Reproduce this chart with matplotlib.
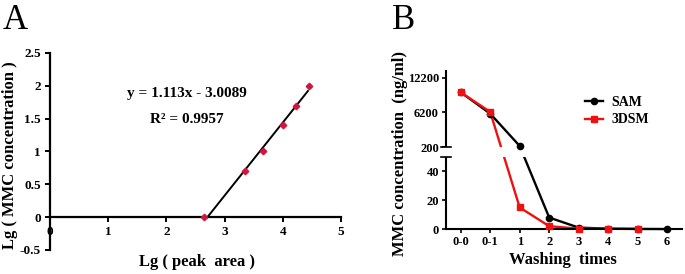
import matplotlib
matplotlib.use("Agg")
import matplotlib.pyplot as plt
import numpy as np
from matplotlib.lines import Line2D
from matplotlib.patches import Rectangle

plt.rcParams["font.family"] = ["Liberation Serif", "DejaVu Serif"]
plt.rcParams["font.weight"] = "bold"

# panel A: calibration
peak_lg = [2.65, 3.35, 3.65, 4.0, 4.23, 4.45]
conc_lg = [0.0, 0.7, 1.0, 1.4, 1.7, 2.0]
slope, intercept = 1.113, -3.0089
fit_range = [2.70, 4.43]
a_xticks = [0, 1, 2, 3, 4, 5]
a_yticks = [-0.5, 0, 0.5, 1, 1.5, 2, 2.5]
a_ylabels = ["-0.5", "0", "0.5", "1", "1.5", "2", "2.5"]

# panel B: washing
wash_labels = ["0-0", "0-1", "1", "2", "3", "4", "5", "6"]
sam = [9700, 6000, 380, 8, 1.0, 0.3, 0.1, 0.0]
dsm = [9700, 6300, 15, 2, 0.3, 0.2, 0.1]
b_yticks = [0, 20, 40, 200, 6200, 12200]

# broken axis: data value -> screen share
brk_val = [0, 50, 200, 13400]
brk_pos = [0, 72, 82, 158]


def fwd(v):
    return np.interp(v, brk_val, brk_pos)


def inv(p):
    return np.interp(p, brk_pos, brk_val)


fig = plt.figure(figsize=(6.85, 2.74), dpi=100)

axA = fig.add_axes([0.073, 0.0876, 0.425, 0.719])
axA.plot(peak_lg, conc_lg, "D", color="#d0163c", ms=3.3, clip_on=False, zorder=3)
axA.plot(fit_range, [slope * x + intercept for x in fit_range], color="black", lw=1.4)
axA.set_xlim(0, 5)
axA.set_ylim(-0.5, 2.5)
axA.spines["left"].set_position(("data", 0))
axA.spines["bottom"].set_position(("data", 0))
for s in ["top", "right"]:
    axA.spines[s].set_visible(False)
for s in ["left", "bottom"]:
    axA.spines[s].set_linewidth(1.6)
axA.set_xticks(a_xticks)
axA.set_yticks(a_yticks)
axA.set_yticklabels(a_ylabels)
axA.tick_params(width=1.4, length=3.5, labelsize=9.5, pad=3)
axA.text(2.35, 1.88, "y = 1.113x - 3.0089", ha="center", va="center", fontsize=11, fontweight="bold")
axA.text(2.35, 1.49, "R² = 0.9957", ha="center", va="center", fontsize=11, fontweight="bold")
fig.text(0.014, 0.435, "Lg ( MMC concentration )", rotation=90, ha="center", va="center",
         fontsize=12, fontweight="bold")
fig.text(0.288, 0.043, "Lg ( peak  area )", ha="center", va="center", fontsize=12, fontweight="bold")
fig.text(0.004, 0.985, "A", ha="left", va="top", fontsize=25, fontweight="normal")

# panel B
x = np.arange(len(wash_labels))
axB = fig.add_axes([0.651, 0.164, 0.3445, 0.577])
axB.set_yscale("function", functions=(fwd, inv))
axB.plot(x, sam, "-", color="black", lw=1.7, clip_on=False, zorder=2)
axB.plot(x[:len(dsm)], dsm, "-", color="#ee1111", lw=1.7, clip_on=False, zorder=2)
axB.plot(x, sam, "o", color="black", ms=4.5, clip_on=False, zorder=3)
axB.plot(x[:len(dsm)], dsm, "s", color="#ee1111", ms=4.5, clip_on=False, zorder=3)
axB.set_xlim(-0.5, 7.5)
axB.set_ylim(0, 13400)
axB.set_yticks(b_yticks)
axB.set_yticklabels([str(v) for v in b_yticks])
axB.set_xticks(x)
axB.set_xticklabels(wash_labels)
axB.spines["right"].set_visible(False)
axB.spines["top"].set_visible(False)
axB.spines["left"].set_linewidth(1.5)
axB.spines["bottom"].set_linewidth(1.5)
axB.tick_params(width=1.2, length=3, labelsize=9, pad=2)

# gap of the broken axis
ytr = axB.get_yaxis_transform()
axB.add_patch(Rectangle((-0.012, 52), 1.02, 146, transform=ytr, facecolor="white",
                        edgecolor="none", clip_on=False, zorder=2.7))
for yv in (50, 200):
    axB.plot([-0.022, 0.022], [yv, yv], transform=ytr, color="black", lw=1.2,
             clip_on=False, zorder=4)

handles = [
    Line2D([], [], color="black", lw=1.7, marker="o", ms=4.5),
    Line2D([], [], color="#ee1111", lw=1.7, marker="s", ms=4.5),
]
axB.legend(handles, ["SAM", "3DSM"], loc="center left", bbox_to_anchor=(0.56, 0.745),
           frameon=False, fontsize=10, handlelength=1.3, handletextpad=0.6, borderpad=0,
           labelspacing=0.3)
fig.text(0.584, 0.44, "MMC concentration  (ng/ml)", rotation=90, ha="center", va="center",
         fontsize=12, fontweight="bold")
fig.text(0.821, 0.05, "Washing  times", ha="center", va="center", fontsize=12, fontweight="bold")
fig.text(0.572, 0.985, "B", ha="left", va="top", fontsize=25, fontweight="normal")

fig.savefig("out.png", dpi=100)
